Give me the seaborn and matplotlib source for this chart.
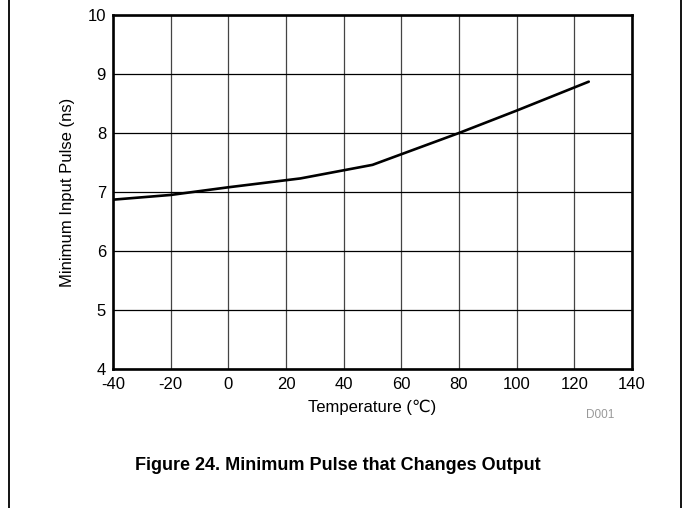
import matplotlib
matplotlib.use("Agg")
import matplotlib.pyplot as plt
import seaborn as sns
import pandas as pd
from matplotlib.lines import Line2D

temperature = [-40, -20, 0, 25, 50, 80, 100, 125]
min_pulse = [6.87, 6.95, 7.08, 7.23, 7.46, 8.0, 8.38, 8.87]
x_ticks = [-40, -20, 0, 20, 40, 60, 80, 100, 120, 140]
y_ticks = [4, 5, 6, 7, 8, 9, 10]

sns.set_theme(style="white")
plt.rcParams['font.family'] = ['Liberation Sans', 'DejaVu Sans']

df = pd.DataFrame({"Temperature": temperature, "Pulse": min_pulse})

fig = plt.figure(figsize=(6.83, 5.08), dpi=100)
ax = fig.add_axes([113/683, 1-369/508, (632-113)/683, (369-15)/508])

sns.lineplot(data=df, x="Temperature", y="Pulse", ax=ax, color="black", linewidth=1.9, zorder=3)

ax.set_xlim(-40, 140)
ax.set_ylim(4, 10)
ax.set_xticks(x_ticks)
ax.set_yticks(y_ticks)
ax.set_xticklabels([str(t) for t in x_ticks], fontsize=12, color="black")
ax.set_yticklabels([str(t) for t in y_ticks], fontsize=12, color="black")
ax.tick_params(axis="x", length=0, pad=6)
ax.tick_params(axis="y", length=0, pad=5)
ax.grid(True, axis="x", color="#444444", linewidth=0.9)
ax.grid(True, axis="y", color="black", linewidth=0.9)
for s in ax.spines.values():
    s.set_visible(True)
    s.set_color("black")
    s.set_linewidth(1.9)
ax.set_xlabel("Temperature (\u2103)", fontsize=12, color="black", labelpad=5)
ax.set_ylabel("Minimum Input Pulse (ns)", fontsize=12, color="black", labelpad=9)

fig.text(600/683, 1-415/508, "D001", fontsize=8.5, color="#999999", ha="center", va="center")
fig.text(338/683, 1-465/508, "Figure 24. Minimum Pulse that Changes Output",
         fontsize=13, fontweight="bold", color="black", ha="center", va="center")

fig.add_artist(Line2D([9/683, 9/683], [0, 1], transform=fig.transFigure, color="black", linewidth=1.3))
fig.add_artist(Line2D([681/683, 681/683], [0, 1], transform=fig.transFigure, color="black", linewidth=1.3))

fig.savefig("out.png", dpi=100)
